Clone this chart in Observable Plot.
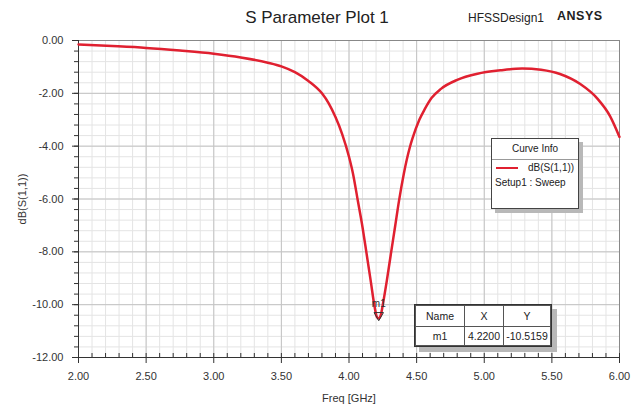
<!DOCTYPE html>
<html><head><meta charset="utf-8">
<script src="https://cdn.jsdelivr.net/npm/d3@7"></script>
<script src="https://cdn.jsdelivr.net/npm/@observablehq/plot@0.6"></script>
<style>
body{margin:0;background:#fff;}
#wrap{position:relative;width:640px;height:404px;font-family:"Liberation Sans",Arial,sans-serif;color:#222;}
.t{position:absolute;white-space:nowrap;}
.box{position:absolute;background:#fff;border:1px solid #444;box-shadow:4px 4px 0 #b8b8b8;font-size:10px;}
table{border-collapse:collapse;font-size:10.5px;}
td{border:1px solid #555;text-align:center;padding:0;}
</style></head>
<body><div id="wrap"></div>
<script>
const freq = [2.0,2.25,2.5,2.75,3.0,3.2,3.4,3.5,3.6,3.7,3.8,3.85,3.9,3.95,4.0,4.03,4.065,4.1,4.13,4.16,4.19,4.205,4.22,4.235,4.25,4.28,4.31,4.34,4.37,4.405,4.45,4.47,4.52,4.56,4.61,4.68,4.8,4.95,5.12,5.28,5.42,5.56,5.71,5.84,5.93,6.0];
const dB   = [-0.15,-0.21,-0.28,-0.38,-0.50,-0.64,-0.84,-0.98,-1.20,-1.53,-2.0,-2.38,-2.9,-3.55,-4.4,-5.05,-6.06,-7.07,-8.07,-9.08,-10.1,-10.45,-10.52,-10.4,-10.0,-9.08,-8.07,-7.07,-6.06,-5.05,-4.04,-3.7,-3.0,-2.6,-2.18,-1.83,-1.49,-1.26,-1.13,-1.06,-1.11,-1.27,-1.65,-2.22,-2.86,-3.65];
const xTicks = [2.0,2.5,3.0,3.5,4.0,4.5,5.0,5.5,6.0];
const yTicks = [0,-2,-4,-6,-8,-10,-12];
const xMinor = d3.range(20,61).map(d=>d/10);
const yMinor = d3.range(0,31).map(d=>-d*0.4);
const markerName = ["m1"];
const markerX = [4.22];
const markerY = [-10.5159];

const data = freq.map((f,i)=>({f, v:dB[i]}));
const mk = markerName.map((n,i)=>({n, x:markerX[i], y:markerY[i]}));

const chart = Plot.plot({
  width:640, height:404,
  marginLeft:78, marginRight:21, marginTop:40, marginBottom:47,
  x:{domain:[2,6]}, y:{domain:[-12,0]},
  style:{fontFamily:"Liberation Sans, Arial, sans-serif", fontSize:"11px", color:"#333", background:"transparent"},
  marks:[
    Plot.gridX(xMinor,{stroke:"#e4e4e4", strokeOpacity:1}),
    Plot.gridY(yMinor,{stroke:"#e4e4e4", strokeOpacity:1}),
    Plot.gridX(xTicks,{stroke:"#c4c4c4", strokeOpacity:1}),
    Plot.gridY(yTicks,{stroke:"#c4c4c4", strokeOpacity:1}),
    Plot.frame({stroke:"#888"}),
    Plot.ruleX([2],{stroke:"#333"}),
    Plot.ruleY([-12],{stroke:"#333"}),
    Plot.axisX(xMinor,{tickSize:-4, text:null, label:null, stroke:"#333"}),
    Plot.axisX(xTicks,{tickSize:6, tickPadding:9, tickFormat:d=>d.toFixed(2), label:"Freq [GHz]", labelAnchor:"center", labelArrow:"none", labelOffset:44, stroke:"#333"}),
    Plot.axisY(yMinor,{tickSize:4, text:null, label:null, stroke:"#333"}),
    Plot.axisY(yTicks,{tickSize:6, tickPadding:9, tickFormat:d=>d.toFixed(2), label:"dB(S(1,1))", labelAnchor:"center", labelArrow:"none", labelOffset:60, stroke:"#333"}),
    Plot.line(data,{x:"f", y:"v", stroke:"#e02030", strokeWidth:2.5, curve:"monotone-x"}),
    Plot.dot(mk,{x:"x", y:"y", symbol:"triangle", rotate:180, r:3.5, stroke:"#333", strokeWidth:1, dy:-3}),
    Plot.text(mk,{x:"x", y:"y", text:"n", dy:-14, fontSize:10, fill:"#333"})
  ]
});
const wrap = document.getElementById("wrap");
wrap.appendChild(chart);

function add(html, css, cls="t"){const d=document.createElement("div");d.className=cls;d.style.cssText=css;d.innerHTML=html;wrap.appendChild(d);return d;}
add("S Parameter Plot 1","left:0;width:634px;text-align:center;top:8px;font-size:17px;");
add("HFSSDesign1","left:468px;top:11px;font-size:12px;");
add("ANSYS","left:557px;top:9px;font-size:12.5px;font-weight:bold;letter-spacing:0.5px;");

add(`<div style="text-align:center;height:20px;line-height:20px;border-bottom:1px solid #999;">Curve Info</div>
<div style="position:relative;height:15px;"><span style="position:absolute;left:4px;top:7px;width:22px;border-top:2px solid #e02030;"></span><span style="position:absolute;left:36px;top:2px;">dB(S(1,1))</span></div>
<div style="padding-left:3px;margin-top:2px;">Setup1 : Sweep</div>`,
 "left:491px;top:138px;width:86px;height:69px;","box");

add(`<table><tr style="height:21px"><td style="width:48px">Name</td><td style="width:38px">X</td><td style="width:46px">Y</td></tr>
<tr style="height:19px"><td>${markerName[0]}</td><td>${markerX[0].toFixed(4)}</td><td>${markerY[0].toFixed(4)}</td></tr></table>`,
 "left:414px;top:304px;border:1px solid #333;box-shadow:5px 5px 0 #b8b8b8;background:#fff;");
</script></body></html>
